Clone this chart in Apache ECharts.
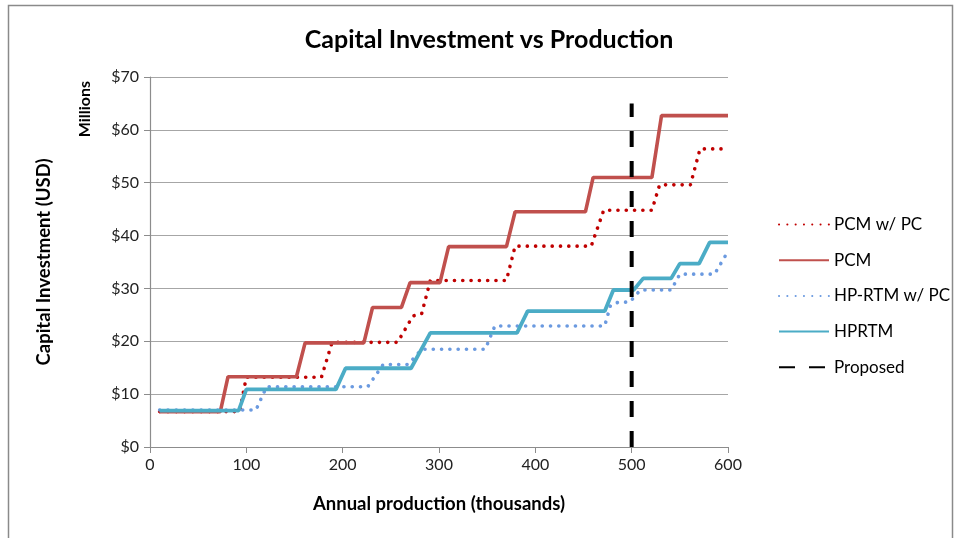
<!DOCTYPE html>
<html>
<head>
<meta charset="utf-8">
<script src="https://cdn.jsdelivr.net/npm/echarts@6/dist/echarts.min.js"></script>
<style>
  html, body { margin: 0; padding: 0; background: #fff; }
  #chart { width: 954px; height: 538px; }
</style>
</head>
<body>
<div id="chart"></div>
<script>
// Annual production (thousands) vs capital investment (USD millions), step-shaped cost curves
const pcmWithPc = [[10,6.7],[93,6.7],[100,13.2],[178,13.2],[189,19.8],[257,19.8],[264,22.0],[273,24.8],[282,25.2],[291,31.5],[370,31.5],[379,38.0],[458,38.0],[471,44.8],[521,44.8],[529,49.6],[561,49.6],[571,56.4],[600,56.4]];
const pcm = [[10,6.7],[73,6.7],[81,13.3],[152,13.3],[161,19.7],[222,19.7],[231,26.4],[261,26.4],[270,31.1],[301,31.1],[310,37.9],[370,37.9],[379,44.5],[452,44.5],[460,51.0],[521,51.0],[531,62.7],[600,62.7]];
const hpRtmWithPc = [[10,7.0],[110,7.0],[121,11.4],[226,11.4],[242,15.6],[268,15.6],[282,18.5],[348,18.5],[358,22.9],[472,22.9],[478,26.8],[486,27.4],[498,27.4],[509,29.7],[541,29.7],[550,32.7],[586,32.7],[600,37.0]];
const hprtm = [[10,6.9],[92,6.9],[100,10.9],[193,10.9],[203,14.9],[271,14.9],[291,21.6],[381,21.6],[392,25.7],[472,25.7],[481,29.7],[502,29.7],[512,31.9],[541,31.9],[550,34.7],[570,34.7],[581,38.7],[600,38.7]];
const proposed = [[500,0],[500,65]];

const seriesNames = ['PCM w/ PC', 'PCM', 'HP-RTM w/ PC', 'HPRTM', 'Proposed'];
const xTicks = { min: 0, max: 600, interval: 100 };
const yTicks = { min: 0, max: 70, interval: 10 };

const FONT = 'Lato';
const chart = echarts.init(document.getElementById('chart'));

function lineSeries(name, data, color, width, dash, cap, z) {
  return {
    name: name,
    type: 'line',
    data: data,
    symbol: 'none',
    showSymbol: false,
    z: z,
    lineStyle: { color: color, width: width, type: dash, cap: cap },
    itemStyle: { color: color },
    animation: false
  };
}

chart.setOption({
  backgroundColor: '#fff',
  animation: false,
  title: {
    text: 'Capital Investment vs Production',
    left: 484, top: 22, textAlign: 'center',
    textStyle: { fontFamily: FONT, fontSize: 25, fontWeight: 'bold', color: '#000' }
  },
  graphic: [
    { type: 'rect', shape: { x: 8.5, y: 5.5, width: 944, height: 560 },
      style: { fill: 'none', stroke: '#8a8a8a', lineWidth: 1.5 }, silent: true, z: -10 },
    { type: 'text', left: 77, top: 81, rotation: Math.PI / 2,
      style: { text: 'Millions', font: 'bold 16px ' + FONT, fill: '#000' } }
  ],
  legend: {
    orient: 'vertical',
    left: 773, top: 211,
    itemWidth: 50, itemHeight: 14, itemGap: 18.7,
    data: seriesNames,
    itemStyle: { opacity: 0 },
    textStyle: { fontFamily: FONT, fontSize: 17, color: '#000', padding: [0, 0, 0, 0] }
  },
  grid: { left: 150, right: 226, top: 77, bottom: 91, containLabel: false },
  xAxis: {
    type: 'value', min: xTicks.min, max: xTicks.max, interval: xTicks.interval,
    name: 'Annual production (thousands)', nameLocation: 'middle', nameGap: 48,
    nameTextStyle: { fontFamily: FONT, fontSize: 18.5, fontWeight: 'bold', color: '#000' },
    axisLine: { lineStyle: { color: '#8c8c8c', width: 1.2 } },
    axisTick: { show: true, inside: false, length: 6, lineStyle: { color: '#8c8c8c' } },
    axisLabel: { fontFamily: FONT, fontSize: 16, color: '#222', margin: 10 },
    splitLine: { show: false }
  },
  yAxis: {
    type: 'value', min: yTicks.min, max: yTicks.max, interval: yTicks.interval,
    name: 'Capital Investment (USD)', nameLocation: 'middle', nameGap: 96,
    nameRotate: 90,
    nameTextStyle: { fontFamily: FONT, fontSize: 18.5, fontWeight: 'bold', color: '#000' },
    axisLine: { show: true, lineStyle: { color: '#8c8c8c', width: 1.2 } },
    axisTick: { show: true, inside: false, length: 6, lineStyle: { color: '#8c8c8c' } },
    axisLabel: { fontFamily: FONT, fontSize: 16, color: '#222', margin: 11,
      formatter: function (v) { return '$' + v; } },
    splitLine: { show: true, lineStyle: { color: '#a6a6a6', width: 1.2 } }
  },
  series: [
    lineSeries('PCM w/ PC', pcmWithPc, '#c00000', 3.6, [0.1, 8.2], 'round', 3),
    lineSeries('PCM', pcm, '#c0504d', 3.6, 'solid', 'butt', 4),
    lineSeries('HP-RTM w/ PC', hpRtmWithPc, '#6b9ae0', 3.6, [0.1, 8.2], 'round', 3),
    lineSeries('HPRTM', hprtm, '#4bacc6', 3.8, 'solid', 'butt', 4),
    lineSeries('Proposed', proposed, '#000', 4, [16, 14], 'butt', 5)
  ]
});
</script>
</body>
</html>
